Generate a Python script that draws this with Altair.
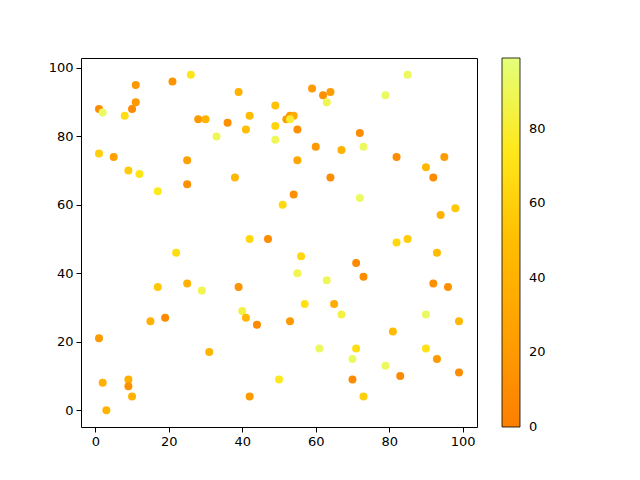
import altair as alt
import pandas as pd

xs = [1, 2, 8, 10, 11, 11, 21, 26, 28, 30, 36, 33, 39, 42, 41, 49, 49, 49, 1, 5,
      9, 12, 17, 25, 25, 38, 52, 53, 54, 53, 55, 59, 62, 64, 63, 79, 85, 60, 67, 72,
      73, 55, 64, 82, 90, 95, 92, 54, 51, 72, 94, 98, 82, 85, 42, 47, 22, 17, 25, 29,
      39, 40, 41, 44, 15, 19, 1, 31, 9, 9, 2, 10, 3, 42, 50, 56, 55, 63, 71, 73,
      93, 92, 96, 57, 65, 67, 53, 81, 90, 99, 61, 71, 70, 79, 90, 93, 70, 83, 99, 73]
ys = [88, 87, 86, 88, 90, 95, 96, 98, 85, 85, 84, 80, 93, 86, 82, 89, 83, 79, 75, 74,
      70, 69, 64, 73, 66, 68, 85, 86, 86, 85, 82, 94, 92, 93, 90, 92, 98, 77, 76, 81,
      77, 73, 68, 74, 71, 74, 68, 63, 60, 62, 57, 59, 49, 50, 50, 50, 46, 36, 37, 35,
      36, 29, 27, 25, 26, 27, 21, 17, 9, 7, 8, 4, 0, 4, 9, 45, 40, 38, 43, 39,
      46, 37, 36, 31, 31, 28, 26, 23, 28, 26, 18, 18, 15, 13, 18, 15, 9, 10, 11, 4]
cs = [10, 93, 68, 8, 18, 18, 15, 72, 20, 40, 12, 90, 40, 48, 50, 52, 62, 90, 60, 25,
      58, 72, 75, 25, 12, 45, 22, 20, 35, 80, 12, 20, 12, 22, 88, 92, 92, 18, 40, 10,
      92, 30, 10, 10, 45, 22, 10, 12, 65, 93, 40, 55, 65, 58, 65, 10, 68, 55, 40, 88,
      15, 85, 45, 8, 38, 8, 20, 42, 38, 15, 38, 40, 42, 20, 75, 65, 88, 90, 8, 10,
      48, 12, 12, 70, 35, 85, 20, 48, 92, 45, 92, 68, 93, 92, 70, 20, 10, 8, 10, 60]

# colorbar ticks (first one nudged off the end so its label stays centred)
cbar_ticks = [0.01, 20, 40, 60, 80]

wistia_r = ["#fc7f00", "#ffa000", "#ffbd00", "#ffe81a", "#e4ff7a"]

df = pd.DataFrame({"x": xs, "y": ys, "c": cs})

font = "DejaVu Sans"

chart = (
    alt.Chart(df)
    .mark_circle(size=64, opacity=1)
    .encode(
        x=alt.X("x:Q", title=None,
                scale=alt.Scale(domain=[-3.9, 103.9], nice=False, zero=False),
                axis=alt.Axis(values=[0, 20, 40, 60, 80, 100], grid=False)),
        y=alt.Y("y:Q", title=None,
                scale=alt.Scale(domain=[-4.9, 102.9], nice=False, zero=False),
                axis=alt.Axis(values=[0, 20, 40, 60, 80, 100], grid=False)),
        color=alt.Color("c:Q",
                        scale=alt.Scale(domain=[0, 99], range=wistia_r, interpolate="rgb", nice=False),
                        legend=alt.Legend(
                            title=None, orient="none", legendX=421, legendY=0,
                            direction="vertical",
                            gradientLength=369, gradientThickness=18,
                            gradientStrokeColor="black", gradientStrokeWidth=0.8,
                            values=cbar_ticks, format=".0f",
                            labelOverlap=False, labelOffset=9, labelBaseline="middle",
                            labelFont=font, labelFontSize=13, labelColor="black")),
    )
    .properties(width=396, height=369,
                autosize=alt.AutoSizeParams(type="none"),
                padding={"left": 73, "top": 50, "right": 155, "bottom": 45})
    .configure_view(stroke="black", strokeWidth=1)
    .configure_axis(domain=False, tickColor="black", tickSize=5, tickWidth=1,
                    labelFont=font, labelFontSize=13, labelColor="black", labelPadding=3)
)

chart.save("out.html", embed_options={"renderer": "svg", "actions": False})
